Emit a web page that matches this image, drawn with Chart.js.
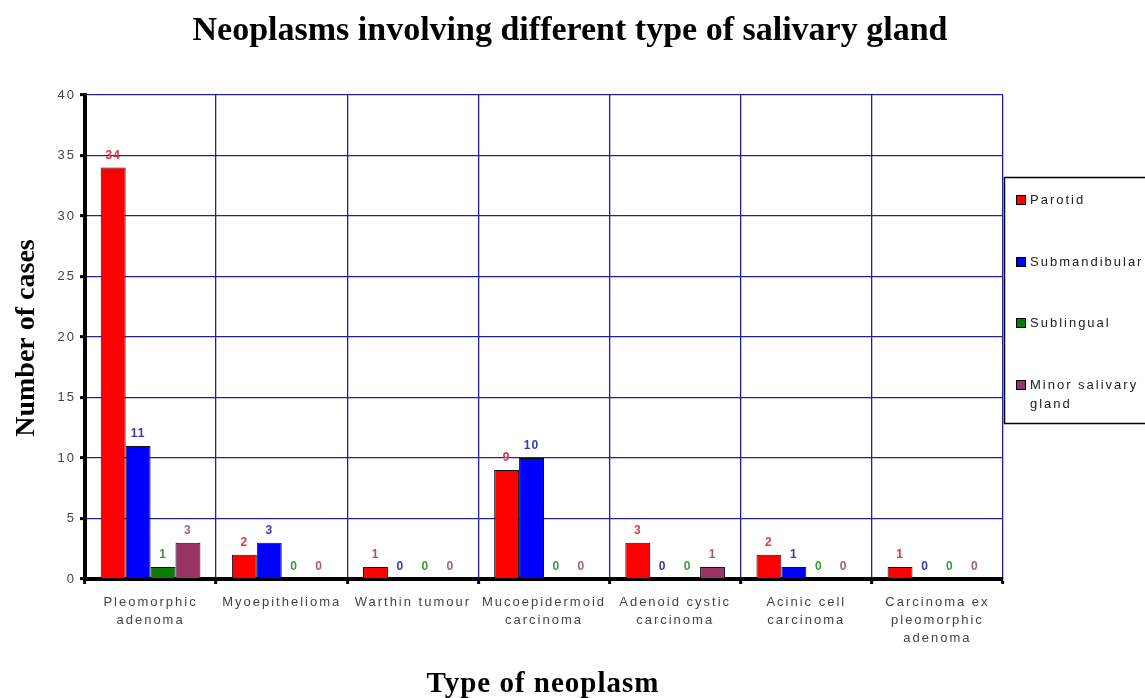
<!DOCTYPE html>
<html>
<head>
<meta charset="utf-8">
<script src="https://cdn.jsdelivr.net/npm/chart.js@4.4.1/dist/chart.umd.min.js"></script>
<style>
  html, body { margin: 0; padding: 0; background: #fff; }
  #wrap { position: relative; width: 1145px; height: 698px; }
</style>
</head>
<body>
<div id="wrap"><canvas id="c" width="1145" height="698"></canvas></div>
<script>
// ─── Data ─────────────────────────────────────────────────────────────────────
const categories = [
    ["Pleomorphic", "adenoma"],
    ["Myoepithelioma"],
    ["Warthin tumour"],
    ["Mucoepidermoid", "carcinoma"],
    ["Adenoid cystic", "carcinoma"],
    ["Acinic cell", "carcinoma"],
    ["Carcinoma ex", "pleomorphic", "adenoma"],
];
const seriesNames = ["Parotid", "Submandibular", "Sublingual", "Minor salivary gland"];
const parotid       = [34, 2, 1, 9, 3, 2, 1];
const submandibular = [11, 3, 0, 10, 0, 1, 0];
const sublingual    = [1, 0, 0, 0, 0, 0, 0];
const minorGland    = [3, 0, 0, 0, 1, 0, 0];
const yTicks = [0, 5, 10, 15, 20, 25, 30, 35, 40];

const barColors   = ["#ff0000", "#0000ff", "#0a7a0a", "#993366"];
const labelColors = ["#d83a4a", "#3a3aa8", "#3a9a3a", "#a85a7a"];

// ─── Plot geometry (chart area in px) ─────────────────────────────────────────
const AREA = { left: 85, top: 95, right: 1003, bottom: 579 };
const W = 1145, H = 698;
const SANS = "Arial, 'Liberation Sans', sans-serif";
const SERIF = "'Liberation Serif', 'Times New Roman', serif";

// Old chart export uses widely spaced sans text — mimic it with letterSpacing
const spacing = {
    id: "spacing",
    beforeUpdate(chart) { chart.ctx.letterSpacing = "2px"; },
    beforeDraw(chart) { chart.ctx.letterSpacing = "2px"; },
};

// Titles, legend box and value labels
const decorations = {
    id: "decorations",
    afterDatasetsDraw(chart) {
        const ctx = chart.ctx;
        ctx.save();
        ctx.letterSpacing = "1px";
        ctx.font = "bold 12px " + SANS;
        ctx.textAlign = "center";
        ctx.textBaseline = "bottom";
        chart.data.datasets.forEach((ds, di) => {
            const meta = chart.getDatasetMeta(di);
            ctx.fillStyle = labelColors[di];
            meta.data.forEach((bar, i) => {
                ctx.fillText(String(ds.data[i]), bar.x, bar.y - 6);
            });
        });
        ctx.restore();
    },
    afterDraw(chart) {
        const ctx = chart.ctx;
        ctx.save();
        ctx.letterSpacing = "0px";
        ctx.fillStyle = "#000";
        ctx.textAlign = "center";
        ctx.textBaseline = "middle";
        ctx.font = "bold 34px " + SERIF;
        ctx.fillText("Neoplasms involving different type of salivary gland", 570, 31);
        ctx.letterSpacing = "1px";
        ctx.font = "bold 29px " + SERIF;
        ctx.fillText("Type of neoplasm", 543, 685);
        ctx.letterSpacing = "0px";
        ctx.translate(27, 338);
        ctx.rotate(-Math.PI / 2);
        ctx.font = "bold 28px " + SERIF;
        ctx.fillText("Number of cases", 0, 0);
        ctx.restore();

        // legend
        ctx.save();
        ctx.fillStyle = "#fff";
        ctx.fillRect(1004, 177, 150, 246);
        ctx.strokeStyle = "#000";
        ctx.lineWidth = 1.5;
        ctx.strokeRect(1004.5, 177.5, 150, 246);
        const rows = [200, 262, 323, 385];
        ctx.letterSpacing = "2px";
        ctx.font = "13px " + SANS;
        ctx.textAlign = "left";
        ctx.textBaseline = "middle";
        seriesNames.forEach((name, i) => {
            ctx.fillStyle = barColors[i];
            ctx.fillRect(1016, rows[i] - 5, 10, 10);
            ctx.strokeStyle = "#000";
            ctx.lineWidth = 1;
            ctx.strokeRect(1016.5, rows[i] - 4.5, 9, 9);
            ctx.fillStyle = "#222";
            if (name === "Minor salivary gland") {
                ctx.fillText("Minor salivary", 1030, rows[i]);
                ctx.fillText("gland", 1030, rows[i] + 19);
            } else {
                ctx.fillText(name, 1030, rows[i]);
            }
        });
        ctx.restore();
    },
};

const allSeries = [parotid, submandibular, sublingual, minorGland];

new Chart(document.getElementById("c"), {
    type: "bar",
    data: {
        labels: categories,
        datasets: allSeries.map((vals, i) => ({
            label: seriesNames[i],
            data: vals,
            backgroundColor: barColors[i],
            borderColor: "#111",
            borderWidth: 1,
            categoryPercentage: 0.76,
            barPercentage: 1.0,
        })),
    },
    options: {
        responsive: false,
        animation: false,
        layout: { padding: { left: 0, top: AREA.top, right: W - AREA.right, bottom: 0 } },
        plugins: {
            legend: { display: false },
            title: { display: false },
            tooltip: { enabled: false },
        },
        scales: {
            x: {
                grid: {
                    offset: true,
                    color: "#2020a0",
                    lineWidth: 1.3,
                    tickColor: "#000",
                    tickWidth: 3,
                    tickLength: 5,
                },
                border: { color: "#000", width: 4 },
                ticks: {
                    color: "#444",
                    font: { size: 13, family: SANS, lineHeight: 1.4 },
                    maxRotation: 0,
                    autoSkip: false,
                    padding: 9,
                },
                afterFit: (scale) => { scale.height = H - AREA.bottom; },
            },
            y: {
                min: 0,
                max: 40,
                afterBuildTicks: (scale) => { scale.ticks = yTicks.map(v => ({ value: v })); },
                grid: {
                    color: "#2020a0",
                    lineWidth: 1.3,
                    tickColor: "#000",
                    tickWidth: 3,
                    tickLength: 5,
                },
                border: { color: "#000", width: 4 },
                ticks: {
                    color: "#444",
                    font: { size: 13, family: SANS },
                    padding: 4,
                },
                afterFit: (scale) => { scale.width = AREA.left; },
            },
        },
    },
    plugins: [spacing, decorations],
});
</script>
</body>
</html>
